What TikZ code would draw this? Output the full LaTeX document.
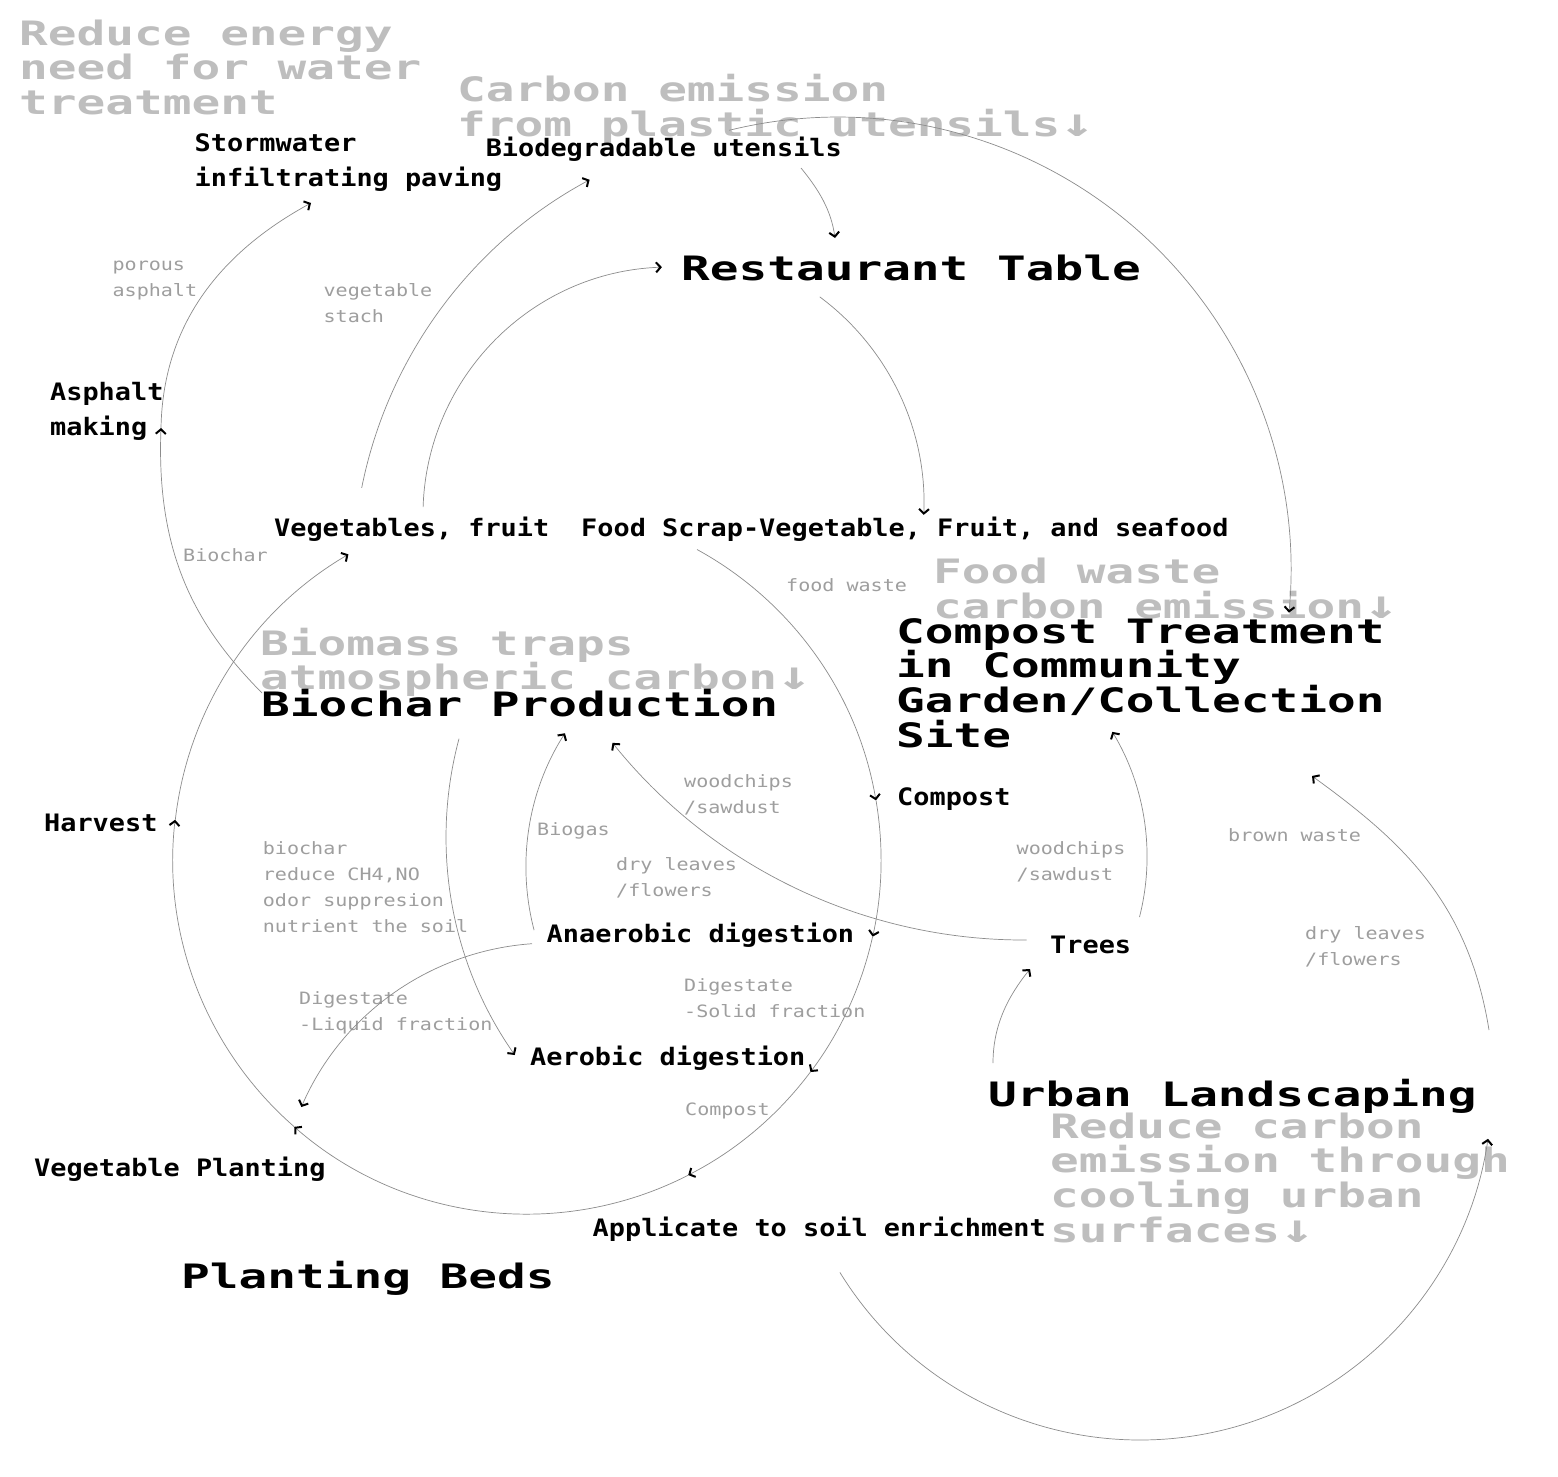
\documentclass[tikz,border=0pt]{standalone}
\usepackage{fontspec}
\usetikzlibrary{arrows.meta}
\newfontfamily\bigfont{DejaVu Sans Mono}[FakeStretch=1.42]
\newfontfamily\midfont{DejaVu Sans Mono}[FakeStretch=1.12]
\newfontfamily\smallfont{DejaVu Sans Mono}[FakeStretch=1.18]
\newcommand\nolsl{\lineskiplimit=-20pt\relax}
\newcommand\bigsz{\fontsize{33.6}{34.7}\selectfont\nolsl}
\newcommand\midsz{\fontsize{24}{35}\selectfont\nolsl}
\newcommand\smallsz{\fontsize{17}{26}\selectfont\nolsl}
\newcommand\dn{{\fontsize{40}{34.7}\selectfont ↓}}
\definecolor{biggray}{RGB}{190,190,190}
\definecolor{smallgray}{RGB}{158,158,158}
\definecolor{linegray}{RGB}{140,140,140}
\tikzset{
  head/.style={inner sep=0pt, anchor=base west, text=black,
    font=\bigfont\bfseries\bigsz},
  headml/.style={head, anchor=north west, align=left},
  bignote/.style={headml, text=biggray},
  lbl/.style={inner sep=0pt, anchor=base west, text=black,
    font=\midfont\bfseries\midsz},
  lblml/.style={lbl, anchor=north west, align=left},
  sub/.style={inner sep=0pt, anchor=base west, text=smallgray,
    font=\smallfont\smallsz},
  subml/.style={sub, anchor=north west, align=left},
  conn/.style={draw=linegray, line width=0.7pt,
    -{Straight Barb[length=4.5pt,width=10pt,line width=2pt,color=black]}}
}
\begin{document}
\begin{tikzpicture}[x=1pt,y=-1pt]
\useasboundingbox (0,0) rectangle (1558,1477);
\fill[white] (0,0) rectangle (1558,1477);

% big gray notes
\node[bignote] (n1) at (19,15) {\rule{0pt}{30pt}Reduce energy\\need for water\\treatment};
\node[bignote] (n2) at (457,71.7) {\rule{0pt}{30pt}Carbon emission\\from plastic utensils\dn};
\node[bignote] (n3) at (933,553.3) {\rule{0pt}{30pt}Food waste\\carbon emission\dn};
\node[bignote] (n4) at (260,625) {\rule{0pt}{30pt}Biomass traps\\atmospheric carbon\dn};
\node[bignote] (n5) at (1050,1108) {\rule{0pt}{30pt}Reduce carbon\\emission through\\cooling urban\\surfaces\dn};

% big black headings
\node[head] (rt) at (681,280) {Restaurant Table};
\node[headml] (ct) at (896,613) {\rule{0pt}{30pt}Compost Treatment\\in Community\\Garden/Collection\\Site};
\node[head] (bp) at (261,716.7) {Biochar Production};
\node[head] (ul) at (988,1106.7) {Urban Landscaping};
\node[head] (pb) at (181,1288) {Planting Beds};

% black labels
\node[lblml] (sw) at (194.5,129.7) {\rule{0pt}{22pt}Stormwater\\infiltrating paving};
\node[lbl] (bu) at (485.6,156.7) {Biodegradable utensils};
\node[lblml] (am) at (50,378) {\rule{0pt}{22pt}Asphalt\\making};
\node[lbl] (vf) at (274,536.7) {Vegetables, fruit};
\node[lbl] (fs) at (581,536.7) {Food Scrap-Vegetable, Fruit, and seafood};
\node[lbl] (hv) at (44,831.7) {Harvest};
\node[lbl] (cp) at (897,805) {Compost};
\node[lbl] (ad) at (546.5,942.7) {Anaerobic digestion};
\node[lbl] (tr) at (1050,953) {Trees};
\node[lbl] (ae) at (530,1065) {Aerobic digestion};
\node[lbl] (vp) at (34,1176.7) {Vegetable Planting};
\node[lbl] (as) at (592.5,1236) {Applicate to soil enrichment};

% gray small labels
\node[subml] (l1) at (112.4,254.7) {\rule{0pt}{16pt}porous\\asphalt};
\node[subml] (l2) at (323.4,280) {\rule{0pt}{16pt}vegetable\\stach};
\node[sub] (l3) at (183,561.7) {Biochar};
\node[sub] (l4) at (786,591.7) {food waste};
\node[subml] (l5) at (684,771) {\rule{0pt}{16pt}woodchips\\/sawdust};
\node[sub] (l6) at (537,835) {Biogas};
\node[subml] (l7) at (616,854) {\rule{0pt}{16pt}dry leaves\\/flowers};
\node[subml] (l8) at (262.7,838) {\rule{0pt}{16pt}biochar\\reduce CH4,NO\\odor suppresion\\nutrient the soil};
\node[subml] (l9) at (299,988) {\rule{0pt}{16pt}Digestate\\-Liquid fraction};
\node[subml] (l10) at (684,975.7) {\rule{0pt}{16pt}Digestate\\-Solid fraction};
\node[sub] (l11) at (685,1115) {Compost};
\node[subml] (l12) at (1016.5,838) {\rule{0pt}{16pt}woodchips\\/sawdust};
\node[sub] (l13) at (1228,841.7) {brown waste};
\node[subml] (l14) at (1305,923.3) {\rule{0pt}{16pt}dry leaves\\/flowers};

% connector end points
\coordinate (a1) at (697,549.5);
\coordinate (a2) at (876,800.4);
\coordinate (a3) at (872.6,936.6);
\coordinate (a4) at (810.4,1072);
\coordinate (a5) at (688.2,1175.2);
\coordinate (a6) at (294.1,1126.6);
\coordinate (a7) at (175.3,819.9);
\coordinate (b1) at (361.7,487.8);
\coordinate (b2) at (423.1,507.2);
\coordinate (b3) at (819.8,296.9);
\coordinate (b4) at (729.2,130.3);
\coordinate (b5) at (1026.7,940);
\coordinate (b6) at (1139.5,917);
\coordinate (b7) at (459,738.7);
\coordinate (b8) at (534.1,930.2);
\coordinate (b9) at (532,943.7);
\coordinate (b10) at (839.9,1272.4);
\coordinate (c1s) at (262,693);
\coordinate (c1e) at (161,428);
\coordinate (c2e) at (311,203);
\coordinate (c3s) at (801,168);
\coordinate (c3e) at (835,238);
\coordinate (c4s) at (993,1063);
\coordinate (c4e) at (1030,969);
\coordinate (c5s) at (1489,1030);
\coordinate (c5e) at (1312,776);

% big loop around Planting Beds
\draw[conn] (a1) arc[start angle=-61.3, end angle=-9.7, radius=354];
\draw[conn] (a2) arc[start angle=-9.7, end angle=12.5, radius=354];
\draw[conn] (a3) arc[start angle=12.5, end angle=36.8, radius=354];
\draw[conn] (a4) arc[start angle=36.8, end angle=62.9, radius=354];
\draw[conn] (a5) arc[start angle=62.9, end angle=131.1, radius=354];
\draw[conn] (a6) arc[start angle=131.1, end angle=186.5, radius=354];
\draw[conn] (a7) arc[start angle=186.5, end angle=239.7, radius=354];

% other arcs
\draw[conn] (b1) arc[start angle=191.3, end angle=241.7, radius=450];
\draw[conn] (b2) arc[start angle=181.8, end angle=267.9, radius=248];
\draw[conn] (b3) arc[start angle=-53.4, end angle=2.4, radius=258];
\draw[conn] (b4) arc[start angle=-103.9, end angle=5.4, radius=453];
\draw[conn] (b5) arc[start angle=89.7, end angle=141.2, radius=528];
\draw[conn] (b6) arc[start angle=14.3, end angle=-31, radius=243];
\draw[conn] (b7) arc[start angle=195, end angle=145, radius=380];
\draw[conn] (b8) arc[start angle=165.3, end angle=212.5, radius=249];
\draw[conn] (b9) arc[start angle=266, end angle=203.4, radius=272];
\draw[conn] (b10) arc[start angle=148.4, end angle=8.3, radius=352];

% free curves
\draw[conn] (c1s) .. controls (200,630) and (156,560) .. (c1e);
\draw[conn] (c1e) .. controls (163,320) and (225,250) .. (c2e);
\draw[conn] (c3s) .. controls (819,190) and (831,210) .. (c3e);
\draw[conn] (c4s) .. controls (993,1023) and (1010,994) .. (c4e);
\draw[conn] (c5s) .. controls (1468,900) and (1400,840) .. (c5e);
\end{tikzpicture}
\end{document}
